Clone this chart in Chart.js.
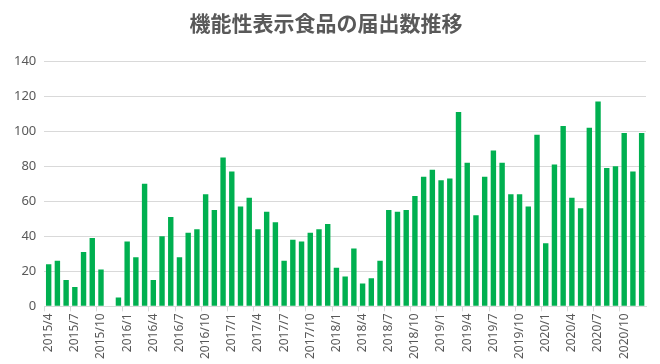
<!DOCTYPE html>
<html>
<head>
<meta charset="utf-8">
<script src="https://cdn.jsdelivr.net/npm/chart.js@4"></script>
<style>
  html, body { margin: 0; padding: 0; background: #fff; }
  #wrap { width: 660px; height: 364px; }
</style>
</head>
<body>
<div id="wrap"><canvas id="chart" width="660" height="364"></canvas></div>
<script>
// months 2015/4 .. 2020/12
const months = [];
for (let y = 2015; y <= 2020; y++) {
    for (let m = 1; m <= 12; m++) {
        if (y === 2015 && m < 4) continue;
        months.push(y + '/' + m);
    }
}

const counts = [
    24, 26, 15, 11, 31, 39, 21, 0, 5,
    37, 28, 70, 15, 40, 51, 28, 42, 44, 64, 55, 85,
    77, 57, 62, 44, 54, 48, 26, 38, 37, 42, 44, 47,
    22, 17, 33, 13, 16, 26, 55, 54, 55, 63, 74, 78,
    72, 73, 111, 82, 52, 74, 89, 82, 64, 64, 57, 98,
    36, 81, 103, 62, 56, 102, 117, 79, 80, 99, 77, 99
];

const yTicks = [0, 20, 40, 60, 80, 100, 120, 140];

const gray = '#595959';
const lineGray = '#d9d9d9';

new Chart(document.getElementById('chart'), {
    type: 'bar',
    data: {
        labels: months,
        datasets: [{
            label: '届出数',
            data: counts,
            backgroundColor: '#00b050',
            barPercentage: 0.62,
            categoryPercentage: 1.0
        }]
    },
    options: {
        responsive: false,
        animation: false,
        layout: { padding: { left: 6, right: 14, top: 4, bottom: 3 } },
        plugins: {
            legend: { display: false },
            tooltip: { enabled: false },
            title: {
                display: true,
                text: '機能性表示食品の届出数推移',
                color: gray,
                font: { family: "'Noto Sans CJK JP'", size: 21, weight: 'bold' },
                padding: { top: 6, bottom: 26 }
            }
        },
        scales: {
            x: {
                grid: {
                    offset: true,
                    drawOnChartArea: false,
                    drawTicks: true,
                    tickLength: 5,
                    color: ctx => (ctx.index % 3 === 0 ? lineGray : 'rgba(0,0,0,0)')
                },
                border: { color: lineGray },
                ticks: {
                    autoSkip: false,
                    maxRotation: 90,
                    minRotation: 90,
                    color: gray,
                    font: { family: "'Noto Sans'", size: 12 },
                    padding: 2,
                    callback: function(v, i) {
                        return i % 3 === 0 ? months[i] : '';
                    }
                }
            },
            y: {
                min: 0,
                max: 140,
                afterBuildTicks: axis => {
                    axis.ticks = yTicks.map(v => ({ value: v }));
                },
                grid: { color: lineGray, drawTicks: false },
                border: { display: false },
                ticks: {
                    color: gray,
                    font: { family: "'Noto Sans'", size: 13 },
                    padding: 8
                }
            }
        }
    }
});
</script>
</body>
</html>
